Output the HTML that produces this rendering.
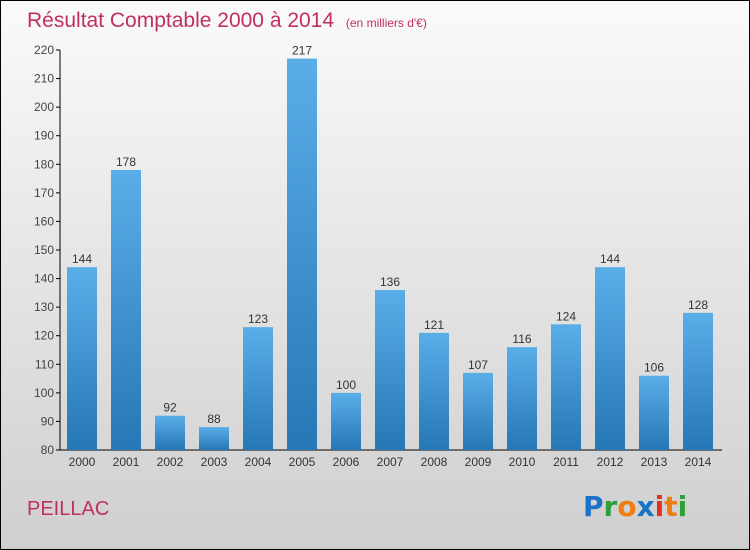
<!DOCTYPE html>
<html><head><meta charset="utf-8"><style>
body{margin:0}
#c{width:748px;height:548px;border:1px solid #000;background:linear-gradient(#fafafa,#cfcfcf);position:relative;font-family:"Liberation Sans",sans-serif;overflow:hidden}
</style></head><body>
<div id="c">
<svg width="748" height="548" id="svg">
<defs><linearGradient id="g" x1="0" y1="0" x2="0" y2="1"><stop offset="0" stop-color="#5aaee8"/><stop offset="1" stop-color="#2677b5"/></linearGradient></defs>
<text x="26" y="26" font-size="21" fill="#c0305f">Résultat Comptable 2000 à 2014 <tspan font-size="12" dx="6">(en milliers d'€)</tspan></text>
<text x="26" y="514" font-size="20" fill="#c0305f">PEILLAC</text>
<g font-size="28" font-weight="bold" font-family="DejaVu Sans, sans-serif">
<text x="582" y="515"><tspan fill="#1a73c8">P</tspan><tspan fill="#2ea03a">r</tspan><tspan fill="#f07d10">o</tspan><tspan fill="#1a73c8">x</tspan><tspan fill="#e03020">i</tspan><tspan fill="#f07d10">t</tspan><tspan fill="#2ea03a">i</tspan></text>
</g>
<g id="plot"></g>
</svg>
</div>
<script>
const years=["2000","2001","2002","2003","2004","2005","2006","2007","2008","2009","2010","2011","2012","2013","2014"];
const values=[144,178,92,88,123,217,100,136,121,107,116,124,144,106,128];
const ticks=[80,90,100,110,120,130,140,150,160,170,180,190,200,210,220];
const x0=59,y0=449,yTop=49,vMin=80,vMax=220,step=44;
const y=v=>y0-(v-vMin)/(vMax-vMin)*(y0-yTop);
const xc=i=>x0+22+i*step;
const g=document.getElementById('plot');
const ns="http://www.w3.org/2000/svg";
function el(t,a){const e=document.createElementNS(ns,t);for(const k in a)e.setAttribute(k,a[k]);g.appendChild(e);return e;}
let ax=el('line',{x1:x0,y1:yTop,x2:x0,y2:y0,stroke:'#000'});


let bx=el('line',{x1:x0,y1:y0,x2:x0+step*15+2,y2:y0,stroke:'#000'});


ticks.forEach(t=>{
 const l=el('line',{x1:x0-4,x2:x0,y1:y(t),y2:y(t),stroke:'#000'});
 
 
 const tx=el('text',{x:x0-6,y:y(t)+4,'font-size':12,fill:'#444','text-anchor':'end'});
 tx.textContent=t;
 
 
});
values.forEach((v,i)=>{
 const r=el('rect',{x:xc(i)-15,y:y(v),width:30,height:y0-y(v),fill:'url(#g)'});
 
 
 const t=el('text',{x:xc(i),y:y(v)-4,'font-size':12,fill:'#333','text-anchor':'middle'});
 t.textContent=v;
 
 
 const xl=el('text',{x:xc(i),y:y0+16,'font-size':12,fill:'#333','text-anchor':'middle'});
 xl.textContent=years[i];
 
 
});
</script>
</body></html>
